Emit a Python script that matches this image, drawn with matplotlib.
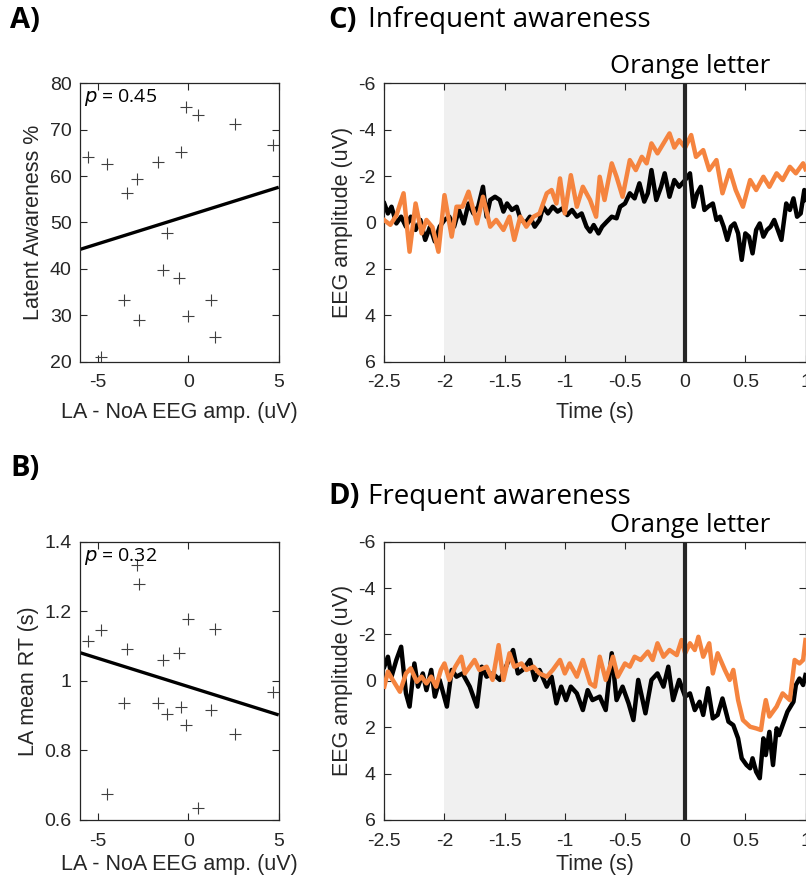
import matplotlib
matplotlib.use("Agg")
import matplotlib.pyplot as plt
import matplotlib.transforms as mtransforms
from matplotlib.ticker import FuncFormatter

plt.rcParams["font.family"] = ["Liberation Sans", "DejaVu Sans"]
plt.rcParams["axes.unicode_minus"] = False

# ---------------- data ----------------
eeg_diff = [-5.53, -4.48, -3.41, -2.86, -1.66, -0.41, -0.13, 0.55, 2.58, 4.67,
            -1.20, -1.38, -0.52, -3.54, -2.71, 0.0, 1.24, 1.48, -4.85]
latent_awareness = [64.05, 62.6, 56.3, 59.4, 63.0, 65.1, 74.8, 73.2, 71.2, 66.6,
                    47.8, 39.8, 38.0, 33.3, 29.0, 29.9, 33.3, 25.3, 21.1]
la_mean_rt = [1.115, 0.675, 1.091, 1.333, 0.937, 0.924, 0.873, 0.635, 0.847, 0.969,
              0.905, 1.060, 1.081, 0.937, 1.278, 1.177, 0.916, 1.148, 1.146]
fit_A = [44.2, 57.6]   # fitted line values at x=-6 and x=5
fit_B = [1.081, 0.902]
p_A = "0.45"
p_B = "0.32"

# Panel C (infrequent awareness)
tC_black = [-2.50, -2.47, -2.44, -2.40, -2.36, -2.32, -2.28, -2.24, -2.20, -2.16, -2.12, -2.08,
            -2.04, -2.00, -1.96, -1.92, -1.88, -1.84, -1.80, -1.76, -1.72, -1.68, -1.65, -1.62,
            -1.58, -1.54, -1.51, -1.48, -1.44, -1.40, -1.37, -1.33, -1.29, -1.25, -1.21, -1.18,
            -1.14, -1.10, -1.06, -1.02, -0.98, -0.94, -0.90, -0.86, -0.82, -0.79, -0.76, -0.72,
            -0.69, -0.65, -0.61, -0.57, -0.54, -0.50, -0.46, -0.42, -0.38, -0.34, -0.31, -0.28,
            -0.24, -0.20, -0.17, -0.13, -0.09, -0.05, 0.00, 0.04, 0.07, 0.10, 0.13, 0.16, 0.19,
            0.23, 0.26, 0.29, 0.32, 0.35, 0.38, 0.41, 0.44, 0.47, 0.50, 0.53, 0.56, 0.59, 0.62,
            0.65, 0.68, 0.71, 0.74, 0.77, 0.80, 0.84, 0.87, 0.90, 0.93, 0.96, 0.99, 1.00]
vC_black = [-0.82, -0.39, -0.68, 0.04, -0.25, 0.18, -0.25, 0.32, -0.11, 0.75, 0.18, 0.82,
            0.18, -0.11, -0.25, 0.18, -0.54, 0.04, -0.82, -0.39, -0.68, -1.54, -0.25, -0.97,
            -1.11, -0.97, -0.47, -0.82, -0.54, -0.68, -0.18, 0.04, -0.25, 0.18, -0.11, -0.68,
            -0.39, -0.68, -0.47, -0.61, -0.32, -0.54, -0.25, -0.39, 0.18, 0.39, 0.11, 0.47,
            0.18, -0.04, -0.25, -0.18, -0.68, -0.82, -1.26, -1.04, -1.69, -0.90, -1.26, -2.26,
            -0.97, -1.54, -2.12, -1.11, -1.83, -1.54, -1.83, -2.12, -0.68, -1.26, -1.54, -0.54, -0.68,
            -0.82, -0.11, -0.25, 0.18, 0.75, 0.18, 0.04, 0.47, 1.61, 0.47, 0.61, 1.33, 0.32, 0.04,
            0.61, 0.32, 0.18, -0.11, 0.32, 0.75, -0.82, -0.54, -1.04, -0.25, -0.39, -1.40, -0.97]

tC_orange = [-2.50, -2.45, -2.40, -2.34, -2.29, -2.24, -2.19, -2.15, -2.10, -2.05, -2.00, -1.94,
             -1.90, -1.85, -1.80, -1.73, -1.68, -1.62, -1.57, -1.51, -1.46, -1.42, -1.37, -1.32,
             -1.26, -1.21, -1.15, -1.11, -1.07, -1.04, -1.00, -0.95, -0.90, -0.85, -0.79, -0.74,
             -0.71, -0.67, -0.61, -0.57, -0.52, -0.46, -0.41, -0.36, -0.32, -0.28, -0.23, -0.18,
             -0.13, -0.09, -0.05, 0.00, 0.05, 0.09, 0.15, 0.20, 0.26, 0.31, 0.37, 0.42, 0.48,
             0.54, 0.59, 0.65, 0.70, 0.76, 0.81, 0.87, 0.92, 0.98, 1.00]
vC_orange = [-0.10, 0.10, -0.30, -1.26, 1.26, -0.82, 0.47, -0.11, 0.20, 1.26, -1.18, 0.61,
             -0.68, -0.68, -1.33, 0.04, -1.11, 0.18, -0.11, 0.32, -0.25, 0.75, -0.25, 0.18,
             -0.25, -0.39, -1.26, -1.40, -0.82, -1.90, -0.39, -2.04, -0.68, -1.54, -0.97, -0.25,
             -1.97, -0.97, -2.55, -1.97, -1.11, -2.69, -2.26, -2.83, -2.55, -3.41, -2.98, -3.41,
             -3.84, -3.23, -3.55, -3.23, -3.77, -2.83, -3.12, -2.26, -2.69, -1.26, -2.26, -1.40, -0.68,
             -1.83, -1.40, -1.97, -1.54, -2.12, -1.83, -2.40, -2.12, -2.55, -2.30]

# Panel D (frequent awareness)
tD_black = [-2.50, -2.47, -2.44, -2.40, -2.36, -2.32, -2.29, -2.25, -2.22, -2.18, -2.15, -2.11,
            -2.08, -2.04, -1.98, -1.94, -1.90, -1.85, -1.79, -1.73, -1.69, -1.65, -1.60, -1.54,
            -1.50, -1.43, -1.39, -1.35, -1.29, -1.25, -1.21, -1.15, -1.11, -1.07, -1.03, -0.99,
            -0.95, -0.90, -0.85, -0.81, -0.77, -0.71, -0.66, -0.61, -0.57, -0.52, -0.47, -0.43,
            -0.39, -0.33, -0.28, -0.23, -0.18, -0.14, -0.10, -0.05, 0.00, 0.04, 0.08, 0.12, 0.15,
            0.19, 0.23, 0.27, 0.31, 0.36, 0.40, 0.44, 0.47, 0.51, 0.54, 0.56, 0.59, 0.62, 0.65,
            0.67, 0.70, 0.73, 0.76, 0.78, 0.83, 0.85, 0.90, 0.92, 0.95, 0.98, 1.00]
vD_black = [-0.61, -1.04, -0.18, -0.90, -1.47, 0.54, 1.11, -0.75, 0.25, -0.32, 0.40, -0.47,
            0.68, -0.04, 1.11, -0.47, -0.18, -0.32, 0.25, 1.11, -0.61, -0.18, -0.32, -0.04,
            -0.47, -1.33, -0.32, -0.47, -0.90, -0.04, -0.47, 0.25, -0.18, 0.97, 0.25, 0.83,
            0.25, 0.54, 1.26, 0.40, 0.83, 0.68, 1.26, -1.19, 0.83, 0.25, 0.97, 1.69,
            -0.04, 1.40, -0.04, -0.32, 0.25, -0.61, 0.83, -0.04, 0.68, 0.54, 1.26, 0.90, 1.47,
            0.32, 1.62, 1.47, 0.76, 1.76, 1.91, 2.48, 3.34, 3.63, 3.77, 3.34, 3.92, 4.20, 2.48,
            3.20, 2.20, 3.63, 2.05, 2.34, 1.62, 1.33, 0.90, 0.18, -0.10, 0.18, -0.25]

tD_orange = [-2.50, -2.47, -2.43, -2.37, -2.32, -2.28, -2.23, -2.19, -2.15, -2.11, -2.07, -2.03,
             -2.00, -1.96, -1.91, -1.86, -1.83, -1.79, -1.75, -1.71, -1.65, -1.60, -1.55, -1.51,
             -1.46, -1.42, -1.36, -1.32, -1.26, -1.21, -1.15, -1.10, -1.04, -1.00, -0.96, -0.90,
             -0.85, -0.79, -0.75, -0.71, -0.66, -0.60, -0.56, -0.50, -0.46, -0.42, -0.37, -0.31,
             -0.27, -0.23, -0.18, -0.13, -0.07, -0.03, 0.00, 0.04, 0.08, 0.11, 0.15, 0.20, 0.23,
             0.27, 0.33, 0.37, 0.40, 0.44, 0.48, 0.54, 0.59, 0.63, 0.65, 0.67, 0.70, 0.76, 0.81,
             0.87, 0.91, 0.95, 0.98, 1.00]
vD_orange = [0.25, -0.40, -0.04, 0.47, -0.32, -0.54, 0.04, -0.18, 0.11, -0.18, 0.25, -0.47,
             -0.75, -0.04, -0.61, -1.04, -0.32, -0.61, -0.90, -0.47, -0.61, -0.04, -1.54, -0.04,
             -1.19, -0.61, -0.75, -0.47, -0.61, -0.32, -0.18, -0.47, -0.90, -0.32, -0.75, -0.18,
             -0.90, 0.11, 0.25, -1.04, -0.04, -1.04, -0.18, -0.75, -0.61, -1.04, -0.90, -1.26,
             -0.90, -1.62, -1.04, -1.33, -1.11, -1.76, -1.19, -1.62, -1.33, -1.90, -1.04, -1.62, -0.32,
             -1.19, -0.47, -0.04, -0.47, 0.83, 1.69, 1.98, 2.05, 2.12, 1.40, 0.83, 1.54, 1.11, 0.54,
             0.83, -0.90, -0.75, -0.90, -1.76]

x_ticks_eeg = [-2.5, -2, -1.5, -1, -0.5, 0, 0.5, 1]
y_ticks_eeg = [-6, -4, -2, 0, 2, 4, 6]

# ---------------- style ----------------
W, H = 806, 883
fig = plt.figure(figsize=(W / 100, H / 100), dpi=100)
TXT = "#262626"
ORANGE = "#F5843F"
SHADE = "#F0F0F0"
title_font = ["Open Sans", "DejaVu Sans"]

def fmt_g(v, pos):
    return "%g" % v

def style_axes(ax):
    for s in ax.spines.values():
        s.set_color(TXT)
        s.set_linewidth(0.9)
    ax.tick_params(direction="in", top=True, right=True, length=5, width=0.8,
                   colors=TXT, labelsize=14, pad=6)
    ax.tick_params(axis="x", pad=9)

def px_rect(l, t, r, b):
    return [l / W, 1 - b / H, (r - l) / W, (b - t) / H]

axA = fig.add_axes(px_rect(80, 83.3, 278.7, 361.7))
axB = fig.add_axes(px_rect(80, 541.7, 278.7, 820))
axC = fig.add_axes(px_rect(384.3, 83.3, 805.5, 361.7))
axD = fig.add_axes(px_rect(384.3, 541.7, 805.5, 820))

# scatter panels
for ax, yvals, fit, pval, ylim, yticks, ylabel, lp in [
        (axA, latent_awareness, fit_A, p_A, (20, 80), [20, 30, 40, 50, 60, 70, 80], "Latent Awareness %", 8),
        (axB, la_mean_rt, fit_B, p_B, (0.6, 1.4), [0.6, 0.8, 1.0, 1.2, 1.4], "LA mean RT (s)", 3)]:
    ax.plot(eeg_diff, yvals, linestyle="none", marker="+", markersize=8,
            markeredgewidth=0.8, color="#404040")
    ax.plot([-6, 5], fit, color="black", linewidth=2.4, solid_capstyle="butt")
    ax.set_xlim(-6, 5)
    ax.set_ylim(*ylim)
    ax.set_xticks([-5, 0, 5])
    ax.set_yticks(yticks)
    ax.yaxis.set_major_formatter(FuncFormatter(fmt_g))
    ax.set_xlabel("LA - NoA EEG amp. (uV)", fontsize=15.5, color=TXT, labelpad=lp)
    ax.set_ylabel(ylabel, fontsize=15.5, color=TXT, labelpad=4)
    style_axes(ax)
    ax.text(0.02, 0.985, r"$\it{p}$" + " = " + pval, transform=ax.transAxes, ha="left", va="top",
            fontsize=14, fontfamily=title_font, color="black")

# EEG panels
for ax, tb, vb, to, vo, lp in [(axC, tC_black, vC_black, tC_orange, vC_orange, 8),
                               (axD, tD_black, vD_black, tD_orange, vD_orange, 3)]:
    ax.axvspan(-2, 0.0, color=SHADE, zorder=0, linewidth=0)
    ax.plot(tb, vb, color="black", linewidth=3.2, zorder=2)
    ax.plot(to, vo, color=ORANGE, linewidth=3.2, zorder=3)
    ax.axvline(0.0, color=TXT, linewidth=3.0, zorder=4)
    ax.set_xlim(-2.5, 1)
    ax.set_ylim(6, -6)
    ax.set_xticks(x_ticks_eeg)
    ax.set_yticks(y_ticks_eeg)
    ax.xaxis.set_major_formatter(FuncFormatter(fmt_g))
    ax.set_xlabel("Time (s)", fontsize=15.5, color=TXT, labelpad=lp)
    ax.set_ylabel("EEG amplitude (uV)", fontsize=15.5, color=TXT, labelpad=4)
    style_axes(ax)
    trans = mtransforms.blended_transform_factory(ax.transData, ax.transAxes)
    ax.text(0.04, 1.015, "Orange letter", transform=trans, ha="center", va="bottom",
            fontsize=18.5, fontfamily=title_font, color="black")

# panel letters and titles
def ftext(xpx, ypx, s, **kw):
    fig.text(xpx / W, 1 - ypx / H, s, va="center", ha="left", color="black", **kw)

ftext(10, 20, "A)", fontsize=21, fontweight="bold", fontfamily=title_font)
ftext(10, 468, "B)", fontsize=21, fontweight="bold", fontfamily=title_font)
ftext(328, 20, "C)", fontsize=21, fontweight="bold", fontfamily=title_font)
ftext(368, 20, "Infrequent awareness", fontsize=20, fontfamily=title_font)
ftext(328, 497, "D)", fontsize=21, fontweight="bold", fontfamily=title_font)
ftext(368, 497, "Frequent awareness", fontsize=20, fontfamily=title_font)

fig.savefig("out.png", dpi=100)
